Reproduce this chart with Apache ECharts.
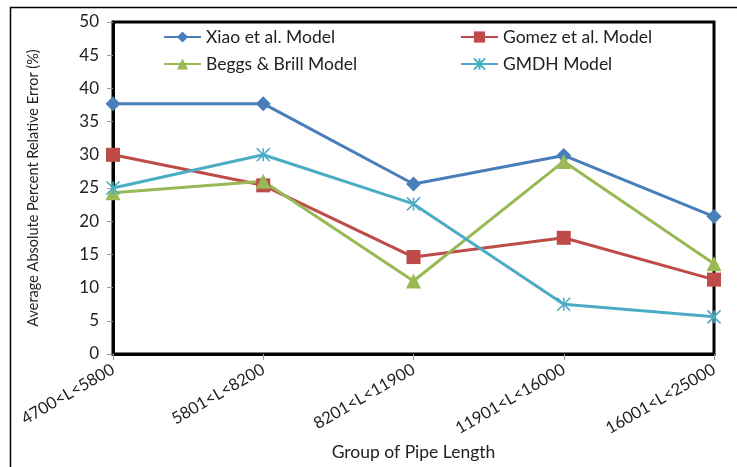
<!DOCTYPE html>
<html>
<head>
<meta charset="utf-8">
<script src="https://cdn.jsdelivr.net/npm/echarts@6/dist/echarts.min.js"></script>
<style>html,body{margin:0;padding:0;background:#fff;}#c{width:737px;height:467px;}</style>
</head>
<body>
<div id="c"></div>
<script>
var categories = ['4700<L<5800', '5801<L<8200', '8201<L<11900', '11901<L<16000', '16001<L<25000'];
var xiao = [37.7, 37.7, 25.6, 29.9, 20.7];
var gomez = [30.0, 25.4, 14.6, 17.5, 11.2];
var beggs = [24.3, 26.0, 11.0, 29.0, 13.6];
var gmdh = [25.0, 30.0, 22.6, 7.5, 5.6];
var yTicks = [0, 5, 10, 15, 20, 25, 30, 35, 40, 45, 50];
var seriesNames = ['Xiao et al. Model', 'Gomez et al. Model', 'Beggs & Brill Model', 'GMDH Model'];

var FONT = 'Lato';
var star = 'path://M0,0 L10,10 M10,0 L0,10 M5,0 L5,10';
var chart = echarts.init(document.getElementById('c'), null, {renderer: 'canvas'});

function mkSeries(name, data, color, symbol, size, extra) {
  var s = {
    name: name, type: 'line', data: data,
    symbol: symbol, symbolSize: size, showSymbol: true,
    lineStyle: {color: color, width: 3},
    itemStyle: {color: color},
    emphasis: {disabled: true},
    animation: false
  };
  if (extra) { s.itemStyle = Object.assign(s.itemStyle, extra); }
  return s;
}

function mkLegend(name, left, top) {
  return {
    data: [name], left: left, top: top, itemWidth: 37, itemHeight: 14, itemGap: 5,
    textStyle: {fontFamily: FONT, fontSize: 17.5, color: '#222'},
    selectedMode: false
  };
}

chart.setOption({
  animation: false,
  backgroundColor: '#fff',
  graphic: [{
    type: 'rect', left: 8, top: 5, shape: {width: 740, height: 470},
    style: {fill: 'none', stroke: '#000', lineWidth: 1.5}, z: -1, silent: true
  }],
  legend: [
    mkLegend(seriesNames[0], 158, 23),
    mkLegend(seriesNames[1], 455, 23),
    mkLegend(seriesNames[2], 158, 50),
    mkLegend(seriesNames[3], 455, 50)
  ],
  grid: {left: 113, right: 23, top: 22, bottom: 113, show: true, borderColor: '#000', borderWidth: 3, backgroundColor: '#fff', outerBoundsMode: 'none', containLabel: false},
  xAxis: {
    type: 'category', data: categories, boundaryGap: false,
    name: 'Group of Pipe Length', nameLocation: 'middle', nameGap: 88,
    nameTextStyle: {fontFamily: FONT, fontSize: 17.5, color: '#222'},
    axisLine: {show: true, lineStyle: {color: '#000', width: 3}},
    axisTick: {show: true, alignWithLabel: true, length: 6, lineStyle: {color: '#999'}},
    axisLabel: {rotate: 30, fontFamily: FONT, fontSize: 16.5, color: '#222', margin: 14},
    splitLine: {show: false}
  },
  yAxis: {
    type: 'value', min: 0, max: 50, interval: 5,
    name: 'Average Absolute Percent Relative Error (%)', nameLocation: 'middle', nameGap: 72,
    nameTextStyle: {fontFamily: FONT, fontSize: 14.5, color: '#222'},
    axisLine: {show: true, lineStyle: {color: '#000', width: 3}},
    axisTick: {show: true, length: 6, lineStyle: {color: '#999'}},
    axisLabel: {fontFamily: FONT, fontSize: 17, color: '#222', margin: 14,
      formatter: function (v) { return yTicks.indexOf(v) >= 0 ? String(v) : ''; }},
    splitLine: {show: false}
  },
  series: [
    mkSeries(seriesNames[0], xiao, '#4a7ebb', 'diamond', 15),
    mkSeries(seriesNames[1], gomez, '#be4b48', 'rect', 14),
    mkSeries(seriesNames[2], beggs, '#98b954', 'triangle', 15),
    mkSeries(seriesNames[3], gmdh, '#4bacc6', star, 13, {borderColor: '#4bacc6', borderWidth: 1.6})
  ]
});
</script>
</body>
</html>
